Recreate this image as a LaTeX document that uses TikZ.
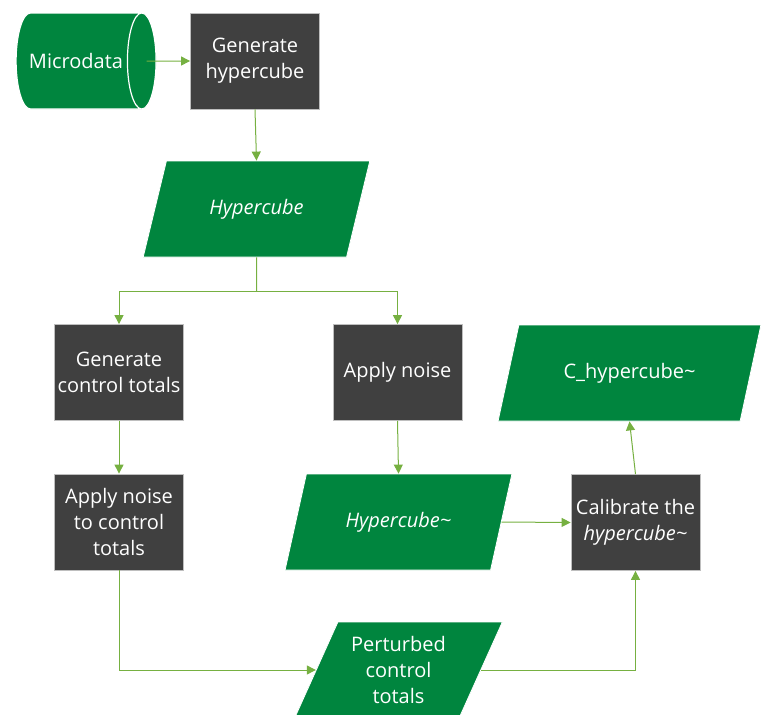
\documentclass[tikz,border=0pt]{standalone}
\usepackage{fontspec}
\setmainfont{Open Sans}
\usetikzlibrary{shapes.geometric, arrows.meta}
\definecolor{boxgreen}{RGB}{0,133,62}
\definecolor{linegreen}{RGB}{118,176,65}
\definecolor{boxgray}{RGB}{64,64,64}
\definecolor{edgegray}{RGB}{190,190,190}

\begin{document}
\begin{tikzpicture}[x=1pt, y=-1pt,
    every node/.style={text=white, align=center, font=\fontsize{20}{26}\selectfont},
    procbox/.style={rectangle, fill=boxgray, draw=edgegray, line width=0.8pt,
        minimum width=129pt, minimum height=96pt},
    databox/.style={trapezium, trapezium stretches=true, trapezium left angle=64,
        trapezium right angle=116, fill=boxgreen, draw=white, line width=0.8pt,
        minimum width=227pt, minimum height=96pt},
    storebox/.style={cylinder, aspect=1.3, fill=boxgreen, draw=white, line width=1.2pt,
        minimum width=96pt, minimum height=140pt},
    arr/.style={draw=linegreen, line width=1pt, -{Triangle[length=9pt, width=9pt]}},
    seg/.style={draw=linegreen, line width=1pt}]
    \useasboundingbox (0,0) rectangle (761,715);
    \node[storebox] (micro) at (76,61) {Microdata};
    \node[procbox] (gen) at (255,61) {Generate\\hypercube};
    \node[databox] (hyp) at (256.5,209) {\itshape Hypercube};
    \node[procbox] (gct) at (119,372.5) {Generate\\control totals};
    \node[procbox] (noise) at (397.5,372.5) {Apply noise};
    \node[databox, minimum width=263pt] (chyp) at (629.5,373) {C\_hypercube\textasciitilde};
    \node[procbox] (antc) at (119,522) {Apply noise\\to control\\totals};
    \node[databox] (hyp2) at (398.5,522) {\itshape Hypercube\textasciitilde};
    \node[procbox] (cal) at (635.5,522.5) {Calibrate the\\\itshape hypercube\textasciitilde};
    \node[databox, minimum width=208pt] (pct) at (398.5,670) {Perturbed\\control\\totals};
    \coordinate (split) at (256.5,291);
    \draw[arr] ([xshift=-10pt]micro.east) -- (gen.west);
    \draw[arr] (gen.south) -- (hyp.north);
    \draw[seg] (hyp.south) -- (split);
    \draw[arr] (split) -| (gct.north);
    \draw[arr] (split) -| (noise.north);
    \draw[arr] (gct.south) -- (antc.north);
    \draw[arr] (noise.south) -- (hyp2.north);
    \draw[arr] (hyp2.right side) -- (cal.west);
    \draw[arr] (cal.north) -- (chyp.south);
    \draw[arr] (antc.south) |- (pct.left side);
    \draw[arr] (pct.right side) -| (cal.south);
\end{tikzpicture}
\end{document}
